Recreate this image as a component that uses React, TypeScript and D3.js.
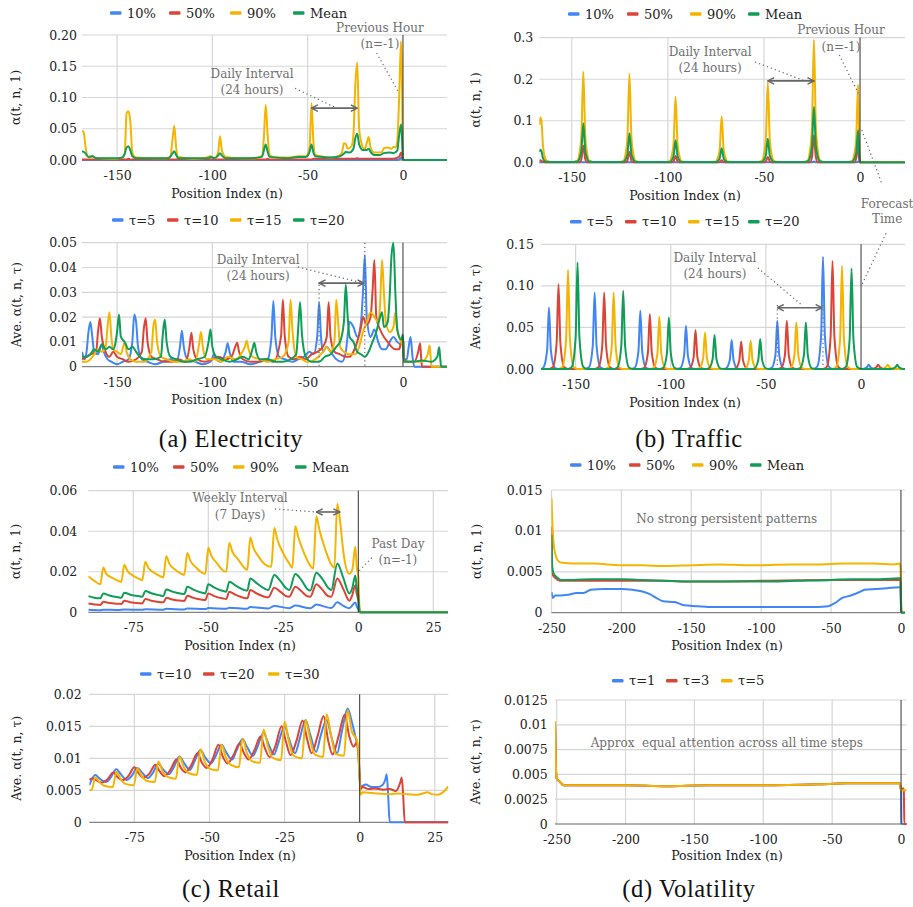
import React, { useEffect, useRef } from 'react';
import * as d3 from 'd3';

type Pt = [number, number];

const BLUE = '#4285f4';
const RED = '#db4437';
const YELLOW = '#f4b400';
const GREEN = '#0f9d58';
const GRID = '#d6d6d6';
const FONT = "'DejaVu Serif', 'Liberation Serif', 'Noto Serif', Georgia, serif";
const CAPTION_FONT = "'Liberation Serif', 'DejaVu Serif', 'Times New Roman', serif";
const NOTE = '#6f6f6f';

// ---------- (a) Electricity ----------
const elecP10: Pt[] = [[-168.4, 0], [-3, 0], [-1.5, 0.002], [-1, 0.004], [-0.5, 0.002], [0, 0], [23.1, 0]];
const elecP50: Pt[] = [[-168.4, 0.001], [-145, 0.001], [-144, 0.002], [-143, 0.001], [-72, 0.001], [-71, 0.002], [-70, 0.001], [-48, 0.001], [-47, 0.002], [-25, 0.002], [-24, 0.003], [-23, 0.002], [-5, 0.002], [-2, 0.005], [-1, 0.012], [-0.5, 0.006], [0, 0], [23.1, 0]];
const elecP90: Pt[] = [[-168.4, 0.047], [-167.5, 0.044], [-166.5, 0.02], [-165.5, 0.006], [-164, 0.004], [-163, 0.007], [-162, 0.004], [-160, 0.003], [-152, 0.002], [-148, 0.003], [-146, 0.01], [-145, 0.075], [-144, 0.078], [-143, 0.06], [-142, 0.012], [-140, 0.004], [-130, 0.003], [-124, 0.003], [-122, 0.006], [-121, 0.03], [-120, 0.055], [-119, 0.02], [-118, 0.005], [-116, 0.004], [-110, 0.002], [-104, 0.003], [-101, 0.006], [-99, 0.003], [-97, 0.012], [-96, 0.038], [-95, 0.015], [-93, 0.005], [-85, 0.003], [-78, 0.003], [-74, 0.006], [-73, 0.035], [-72, 0.088], [-71, 0.04], [-70, 0.008], [-68, 0.005], [-60, 0.004], [-55, 0.006], [-51, 0.006], [-49, 0.02], [-48, 0.091], [-47, 0.03], [-46, 0.008], [-43, 0.006], [-38, 0.004], [-34, 0.006], [-32, 0.012], [-31, 0.027], [-30, 0.026], [-29, 0.018], [-27, 0.022], [-26, 0.04], [-25, 0.12], [-24, 0.156], [-23, 0.05], [-22, 0.03], [-21, 0.02], [-20, 0.018], [-19, 0.027], [-18, 0.037], [-17, 0.02], [-15, 0.012], [-13, 0.012], [-11, 0.013], [-10, 0.019], [-8, 0.02], [-6, 0.018], [-5, 0.021], [-4, 0.02], [-3, 0.03], [-2, 0.1], [-1, 0.19], [-0.5, 0.12], [0, 0], [23.1, 0]];
const elecMean: Pt[] = [[-168.4, 0.014], [-167, 0.012], [-165, 0.005], [-163, 0.006], [-161, 0.003], [-150, 0.003], [-147, 0.004], [-146, 0.01], [-145, 0.02], [-144, 0.022], [-143, 0.015], [-142, 0.006], [-140, 0.003], [-123, 0.003], [-121, 0.01], [-120, 0.014], [-119, 0.008], [-118, 0.003], [-110, 0.003], [-102, 0.003], [-101, 0.005], [-99, 0.003], [-97, 0.007], [-96, 0.011], [-95, 0.007], [-93, 0.003], [-80, 0.003], [-74, 0.005], [-73, 0.015], [-72, 0.025], [-71, 0.013], [-70, 0.005], [-60, 0.003], [-55, 0.005], [-51, 0.005], [-49, 0.013], [-48, 0.025], [-47, 0.012], [-46, 0.006], [-43, 0.005], [-38, 0.004], [-33, 0.006], [-31, 0.01], [-30, 0.013], [-28, 0.012], [-26, 0.018], [-25, 0.035], [-24, 0.042], [-23, 0.025], [-21, 0.016], [-19, 0.016], [-18, 0.018], [-17, 0.013], [-15, 0.008], [-12, 0.008], [-10, 0.011], [-7, 0.012], [-5, 0.011], [-3, 0.015], [-2, 0.04], [-1, 0.057], [-0.5, 0.035], [0, 0], [23.1, 0]];

const elecT5: Pt[] = [[-168.4, 0.006], [-167, 0.003], [-166, 0.006], [-165, 0.014], [-164, 0.018], [-163, 0.012], [-162, 0.006], [-160, 0.005], [-158, 0.009], [-157, 0.006], [-155, 0.003], [-153, 0.002], [-150, 0.001], [-147, 0.002], [-144, 0.003], [-142, 0.01], [-141, 0.021], [-140, 0.018], [-139, 0.008], [-137, 0.003], [-134, 0.002], [-130, 0.001], [-126, 0.002], [-122, 0.003], [-119, 0.002], [-117, 0.008], [-116, 0.0145], [-115, 0.008], [-113, 0.003], [-109, 0.002], [-105, 0.001], [-101, 0.002], [-99, 0.005], [-98, 0.003], [-96, 0.002], [-93, 0.006], [-92, 0.0095], [-91, 0.006], [-89, 0.002], [-85, 0.002], [-80, 0.001], [-75, 0.002], [-71, 0.003], [-69, 0.012], [-68, 0.0265], [-67, 0.012], [-65, 0.004], [-62, 0.003], [-58, 0.002], [-55, 0.003], [-52, 0.004], [-49, 0.006], [-47, 0.005], [-45, 0.012], [-44, 0.026], [-43, 0.012], [-42, 0.006], [-40, 0.008], [-38, 0.006], [-35, 0.003], [-32, 0.002], [-30, 0.006], [-28, 0.018], [-26, 0.016], [-24, 0.012], [-22, 0.018], [-21, 0.03], [-20, 0.045], [-19, 0.02], [-17, 0.012], [-15, 0.015], [-13, 0.01], [-11, 0.007], [-9, 0.007], [-7, 0.01], [-5, 0.012], [-3, 0.01], [-1, 0.009], [0, 0.012], [0.5, 0.003], [2, 0.003], [3, 0.008], [4, 0.012], [5, 0.004], [6, 0], [23.1, 0]];
const elecT10: Pt[] = [[-168.4, 0.003], [-166, 0.004], [-164, 0.005], [-161, 0.006], [-160, 0.014], [-159, 0.0195], [-158, 0.012], [-156, 0.006], [-154, 0.004], [-152, 0.006], [-150, 0.004], [-147, 0.003], [-144, 0.002], [-140, 0.003], [-137, 0.006], [-136, 0.015], [-135, 0.0195], [-134, 0.01], [-132, 0.004], [-129, 0.003], [-125, 0.002], [-121, 0.002], [-118, 0.003], [-114, 0.002], [-112, 0.008], [-111, 0.0137], [-110, 0.007], [-108, 0.003], [-104, 0.002], [-100, 0.003], [-97, 0.004], [-93, 0.003], [-90, 0.004], [-88, 0.008], [-87, 0.0097], [-86, 0.006], [-84, 0.003], [-80, 0.002], [-76, 0.002], [-72, 0.003], [-68, 0.002], [-64, 0.012], [-63, 0.027], [-62, 0.012], [-60, 0.004], [-57, 0.003], [-54, 0.004], [-51, 0.003], [-48, 0.005], [-45, 0.006], [-42, 0.008], [-40, 0.012], [-39, 0.026], [-38, 0.012], [-36, 0.006], [-33, 0.005], [-30, 0.004], [-28, 0.004], [-26, 0.006], [-24, 0.01], [-22, 0.016], [-21, 0.02], [-19, 0.017], [-17, 0.02], [-16, 0.03], [-15, 0.043], [-14, 0.02], [-12, 0.015], [-10, 0.012], [-8, 0.01], [-6, 0.008], [-4, 0.007], [-2, 0.007], [-1, 0.01], [0, 0.012], [0.5, 0.003], [3, 0.002], [6, 0.002], [8, 0.006], [9, 0.0095], [9.5, 0.004], [10, 0], [23.1, 0]];
const elecT15: Pt[] = [[-168.4, 0.002], [-166, 0.002], [-164, 0.003], [-162, 0.005], [-160, 0.007], [-158, 0.006], [-156, 0.008], [-155, 0.016], [-154, 0.022], [-153, 0.012], [-152, 0.007], [-150, 0.006], [-148, 0.005], [-146, 0.01], [-145, 0.006], [-143, 0.003], [-140, 0.002], [-136, 0.002], [-132, 0.006], [-131, 0.016], [-130, 0.019], [-129, 0.01], [-127, 0.004], [-124, 0.003], [-120, 0.002], [-116, 0.002], [-112, 0.003], [-109, 0.002], [-107, 0.009], [-106, 0.014], [-105, 0.008], [-103, 0.003], [-99, 0.003], [-95, 0.002], [-92, 0.004], [-88, 0.003], [-85, 0.005], [-83, 0.008], [-82, 0.0105], [-81, 0.007], [-79, 0.004], [-75, 0.003], [-71, 0.002], [-67, 0.003], [-63, 0.004], [-60, 0.01], [-59, 0.027], [-58, 0.015], [-56, 0.004], [-53, 0.003], [-50, 0.002], [-46, 0.003], [-42, 0.006], [-40, 0.008], [-38, 0.006], [-36, 0.01], [-35, 0.027], [-34, 0.018], [-33, 0.008], [-31, 0.006], [-28, 0.005], [-25, 0.005], [-23, 0.008], [-21, 0.014], [-19, 0.018], [-17, 0.022], [-15, 0.02], [-13, 0.018], [-12, 0.025], [-11, 0.043], [-10, 0.03], [-9, 0.018], [-7, 0.014], [-5, 0.016], [-4, 0.022], [-3, 0.015], [-1, 0.01], [0, 0.008], [0.5, 0.002], [5, 0.002], [10, 0.002], [13, 0.005], [14, 0.0085], [14.5, 0.004], [15, 0], [23.1, 0]];
const elecT20: Pt[] = [[-168.4, 0.004], [-166, 0.004], [-164, 0.005], [-162, 0.007], [-160, 0.006], [-158, 0.009], [-156, 0.007], [-154, 0.008], [-152, 0.007], [-151, 0.009], [-150, 0.014], [-149, 0.021], [-148, 0.012], [-146, 0.01], [-144, 0.007], [-142, 0.008], [-140, 0.006], [-138, 0.004], [-135, 0.003], [-131, 0.003], [-127, 0.004], [-126, 0.013], [-125, 0.019], [-124, 0.01], [-122, 0.004], [-119, 0.003], [-115, 0.002], [-112, 0.002], [-108, 0.003], [-104, 0.004], [-102, 0.01], [-101, 0.015], [-100, 0.008], [-98, 0.004], [-95, 0.003], [-91, 0.002], [-87, 0.003], [-84, 0.004], [-81, 0.003], [-79, 0.007], [-78, 0.0097], [-77, 0.006], [-75, 0.003], [-71, 0.003], [-67, 0.002], [-63, 0.002], [-59, 0.003], [-56, 0.005], [-55, 0.015], [-54, 0.026], [-53, 0.013], [-51, 0.004], [-48, 0.002], [-44, 0.002], [-41, 0.004], [-38, 0.005], [-35, 0.008], [-33, 0.01], [-31, 0.018], [-30, 0.033], [-29, 0.02], [-28, 0.012], [-26, 0.01], [-24, 0.006], [-22, 0.005], [-20, 0.004], [-18, 0.006], [-16, 0.01], [-14, 0.014], [-12, 0.02], [-11, 0.022], [-10, 0.016], [-8, 0.018], [-7, 0.028], [-6, 0.045], [-5, 0.05], [-4, 0.03], [-3, 0.015], [-1, 0.011], [0, 0.013], [0.5, 0.002], [5, 0.002], [10, 0.0025], [15, 0.002], [18, 0.004], [19, 0.0078], [19.5, 0.004], [20, 0], [23.1, 0]];

// ---------- (b) Traffic ----------
const trafP10: Pt[] = [[-166.9, 0], [-25, 0], [-24, 0.002], [-23, 0], [-2, 0], [-1, 0.002], [0, 0], [23.4, 0]];
const trafP50: Pt[] = [[-166.9, 0.004], [-166.3, 0.005], [-165.3, 0.002], [-164, 0], [-146, 0], [-145, 0.008], [-144, 0.04], [-143, 0.008], [-142, 0], [-122, 0], [-121, 0.005], [-120, 0.025], [-119, 0.005], [-118, 0], [-98, 0], [-97, 0.003], [-96, 0.015], [-95, 0.003], [-94, 0], [-74, 0], [-73, 0.001], [-72, 0.005], [-71, 0.001], [-70, 0], [-50, 0], [-49, 0.003], [-48, 0.013], [-47, 0.003], [-46, 0], [-26, 0], [-25, 0.013], [-24, 0.065], [-23, 0.013], [-22, 0], [-3, 0], [-2, 0.009], [-1, 0.045], [-0.5, 0.01], [0, 0], [23.4, 0]];
const trafP90: Pt[] = [[-166.9, 0.09], [-166.4, 0.108], [-165.8, 0.1], [-165, 0.04], [-164, 0.012], [-163, 0.004], [-161, 0.001], [-149, 0.001], [-147, 0.004], [-146, 0.022], [-145, 0.065], [-144, 0.218], [-143, 0.065], [-142, 0.022], [-141, 0.004], [-139, 0.001], [-125, 0.001], [-123, 0.004], [-122, 0.021], [-121, 0.064], [-120, 0.213], [-119, 0.064], [-118, 0.021], [-117, 0.004], [-115, 0.001], [-101, 0.001], [-99, 0.003], [-98, 0.016], [-97, 0.047], [-96, 0.158], [-95, 0.047], [-94, 0.016], [-93, 0.003], [-91, 0.001], [-77, 0.001], [-75, 0.002], [-74, 0.011], [-73, 0.033], [-72, 0.11], [-71, 0.033], [-70, 0.011], [-69, 0.002], [-67, 0.001], [-53, 0.001], [-51, 0.004], [-50, 0.019], [-49, 0.058], [-48, 0.193], [-47, 0.058], [-46, 0.019], [-45, 0.004], [-43, 0.001], [-29, 0.001], [-27, 0.006], [-26, 0.03], [-25, 0.088], [-24, 0.295], [-23, 0.088], [-22, 0.03], [-21, 0.006], [-19, 0.001], [-6, 0.001], [-4, 0.004], [-3, 0.019], [-2, 0.056], [-1, 0.187], [-0.5, 0.06], [0, 0], [23.4, 0]];
const trafMean: Pt[] = [[-166.9, 0.025], [-166.4, 0.03], [-165.8, 0.027], [-165, 0.01], [-164, 0.003], [-163, 0.001], [-149, 0.001], [-147, 0.002], [-146, 0.009], [-145, 0.028], [-144, 0.094], [-143, 0.028], [-142, 0.009], [-141, 0.002], [-139, 0.001], [-125, 0.001], [-123, 0.0015], [-122, 0.007], [-121, 0.021], [-120, 0.07], [-119, 0.021], [-118, 0.007], [-117, 0.0015], [-115, 0.001], [-101, 0.001], [-99, 0.001], [-98, 0.005], [-97, 0.016], [-96, 0.053], [-95, 0.016], [-94, 0.005], [-93, 0.001], [-75, 0.001], [-74, 0.003], [-73, 0.01], [-72, 0.034], [-71, 0.01], [-70, 0.003], [-69, 0.001], [-51, 0.001], [-50, 0.006], [-49, 0.017], [-48, 0.057], [-47, 0.017], [-46, 0.006], [-45, 0.001], [-29, 0.001], [-27, 0.003], [-26, 0.013], [-25, 0.04], [-24, 0.133], [-23, 0.04], [-22, 0.013], [-21, 0.003], [-19, 0.001], [-5, 0.001], [-4, 0.0015], [-3, 0.008], [-2, 0.023], [-1, 0.077], [-0.5, 0.025], [0, 0], [23.4, 0]];

const trafT5: Pt[] = [[-168.2, 0], [-167, 0.0015], [-165, 0.022], [-164, 0.074], [-163, 0.022], [-161, 0.0015], [-159, 0], [-145, 0], [-143, 0.002], [-141, 0.028], [-140, 0.092], [-139, 0.028], [-137, 0.002], [-135, 0], [-121, 0], [-119, 0.0014], [-117, 0.021], [-116, 0.07], [-115, 0.021], [-113, 0.0014], [-111, 0], [-97, 0], [-95, 0.001], [-93, 0.016], [-92, 0.052], [-91, 0.016], [-89, 0.001], [-87, 0], [-73, 0], [-71, 0.0007], [-69, 0.0105], [-68, 0.035], [-67, 0.0105], [-65, 0.0007], [-63, 0], [-49, 0], [-47, 0.0012], [-45, 0.017], [-44, 0.058], [-43, 0.017], [-41, 0.0012], [-39, 0], [-25, 0], [-23, 0.003], [-21, 0.04], [-20, 0.135], [-19, 0.04], [-17, 0.003], [-15, 0], [1, 0], [3, 0.002], [4, 0.005], [5, 0.002], [7, 0], [23.1, 0]];
const trafT10: Pt[] = [[-168.2, 0], [-164, 0], [-162, 0.002], [-160, 0.031], [-159, 0.102], [-158, 0.031], [-156, 0.002], [-154, 0], [-140, 0], [-138, 0.002], [-136, 0.028], [-135, 0.092], [-134, 0.028], [-132, 0.002], [-130, 0], [-116, 0], [-114, 0.0013], [-112, 0.02], [-111, 0.066], [-110, 0.02], [-108, 0.0013], [-106, 0], [-92, 0], [-90, 0.001], [-88, 0.014], [-87, 0.047], [-86, 0.014], [-84, 0.001], [-82, 0], [-68, 0], [-66, 0.0007], [-64, 0.01], [-63, 0.033], [-62, 0.01], [-60, 0.0007], [-58, 0], [-44, 0], [-42, 0.0012], [-40, 0.017], [-39, 0.058], [-38, 0.017], [-36, 0.0012], [-34, 0], [-20, 0], [-18, 0.0026], [-16, 0.039], [-15, 0.13], [-14, 0.039], [-12, 0.0026], [-10, 0], [6, 0], [8, 0.002], [9, 0.005], [10, 0.002], [12, 0], [23.1, 0]];
const trafT15: Pt[] = [[-168.2, 0], [-159, 0], [-157, 0.0024], [-155, 0.036], [-154, 0.119], [-153, 0.036], [-151, 0.0024], [-149, 0], [-135, 0], [-133, 0.0018], [-131, 0.028], [-130, 0.092], [-129, 0.028], [-127, 0.0018], [-125, 0], [-111, 0], [-109, 0.0013], [-107, 0.019], [-106, 0.063], [-105, 0.019], [-103, 0.0013], [-101, 0], [-87, 0], [-85, 0.0009], [-83, 0.013], [-82, 0.044], [-81, 0.013], [-79, 0.0009], [-77, 0], [-63, 0], [-61, 0.0007], [-59, 0.01], [-58, 0.034], [-57, 0.01], [-55, 0.0007], [-53, 0], [-39, 0], [-37, 0.0011], [-35, 0.017], [-34, 0.056], [-33, 0.017], [-31, 0.0011], [-29, 0], [-15, 0], [-13, 0.0025], [-11, 0.037], [-10, 0.124], [-9, 0.037], [-7, 0.0025], [-5, 0], [11, 0], [13, 0.002], [14, 0.005], [15, 0.002], [17, 0], [23.1, 0]];
const trafT20: Pt[] = [[-168.2, 0], [-154, 0], [-152, 0.0026], [-150, 0.038], [-149, 0.128], [-148, 0.038], [-146, 0.0026], [-144, 0], [-130, 0], [-128, 0.0019], [-126, 0.028], [-125, 0.094], [-124, 0.028], [-122, 0.0019], [-120, 0], [-106, 0], [-104, 0.0012], [-102, 0.019], [-101, 0.062], [-100, 0.019], [-98, 0.0012], [-96, 0], [-82, 0], [-80, 0.0008], [-78, 0.012], [-77, 0.041], [-76, 0.012], [-74, 0.0008], [-72, 0], [-58, 0], [-56, 0.0007], [-54, 0.011], [-53, 0.036], [-52, 0.011], [-50, 0.0007], [-48, 0], [-34, 0], [-32, 0.0011], [-30, 0.017], [-29, 0.056], [-28, 0.017], [-26, 0.0011], [-24, 0], [-10, 0], [-8, 0.0024], [-6, 0.036], [-5, 0.121], [-4, 0.036], [-2, 0.0024], [0, 0], [16, 0], [18, 0.002], [19, 0.005], [20, 0.002], [22, 0], [23.1, 0]];

// ---------- (c) Retail ----------
const retP10: Pt[] = [[-90, 0.0012], [-86, 0.001], [-85, 0.0013], [-80, 0.0011], [-78, 0.0014], [-72, 0.0012], [-71, 0.0015], [-65, 0.0013], [-64, 0.0017], [-58, 0.0014], [-57, 0.0019], [-51, 0.0016], [-50, 0.0021], [-44, 0.0017], [-43, 0.0023], [-37, 0.0018], [-36, 0.0026], [-30, 0.0019], [-28, 0.0031], [-23, 0.002], [-21, 0.0033], [-16, 0.002], [-14, 0.0038], [-9, 0.0021], [-7, 0.0049], [-5, 0.0032], [-3, 0.002], [-1, 0.0048], [-0.5, 0.003], [0, 0.0015], [0.5, 0], [30, 0]];
const retP50: Pt[] = [[-90, 0.0044], [-88, 0.0039], [-86, 0.0036], [-85, 0.0052], [-83, 0.0046], [-80, 0.0042], [-79, 0.0041], [-78, 0.0057], [-76, 0.005], [-73, 0.0045], [-72, 0.0044], [-71, 0.0066], [-69, 0.0057], [-66, 0.005], [-65, 0.0049], [-64, 0.0072], [-62, 0.0063], [-59, 0.0057], [-58, 0.0056], [-57, 0.0082], [-55, 0.0071], [-52, 0.0062], [-51, 0.0061], [-50, 0.0093], [-48, 0.008], [-45, 0.0068], [-44, 0.0066], [-43, 0.0102], [-41, 0.0087], [-38, 0.0071], [-37, 0.0069], [-36, 0.011], [-34, 0.0094], [-31, 0.0076], [-30, 0.0074], [-28, 0.0121], [-26, 0.0102], [-24, 0.0079], [-23, 0.0077], [-21, 0.0126], [-19, 0.0105], [-17, 0.0079], [-16, 0.0077], [-14, 0.0139], [-12, 0.0112], [-10, 0.0079], [-9, 0.0077], [-7, 0.0167], [-5, 0.0115], [-3, 0.0057], [-2, 0.0085], [-1, 0.0134], [-0.5, 0.009], [0, 0.006], [0.5, 0], [30, 0]];
const retP90: Pt[] = [[-90, 0.0178], [-88, 0.0155], [-86, 0.0138], [-85, 0.0221], [-84, 0.019], [-82, 0.017], [-80, 0.0155], [-79, 0.015], [-78, 0.0233], [-77, 0.0205], [-75, 0.018], [-73, 0.0165], [-72, 0.0158], [-71, 0.0249], [-70, 0.022], [-68, 0.0195], [-66, 0.0178], [-65, 0.0172], [-64, 0.0277], [-63, 0.024], [-61, 0.021], [-59, 0.019], [-58, 0.0185], [-57, 0.0293], [-56, 0.0255], [-54, 0.022], [-52, 0.0195], [-51, 0.019], [-50, 0.0318], [-49, 0.028], [-47, 0.024], [-45, 0.0205], [-44, 0.02], [-43, 0.0343], [-42, 0.03], [-40, 0.026], [-38, 0.022], [-37, 0.021], [-36, 0.0369], [-35, 0.032], [-33, 0.027], [-31, 0.0235], [-29, 0.0225], [-28, 0.0416], [-27, 0.036], [-25, 0.029], [-23, 0.024], [-22, 0.022], [-21, 0.0425], [-20, 0.037], [-18, 0.029], [-16, 0.023], [-15, 0.0215], [-14, 0.0474], [-13, 0.041], [-11, 0.031], [-9, 0.0235], [-8, 0.022], [-7, 0.0536], [-6, 0.044], [-5, 0.03], [-3, 0.019], [-2, 0.021], [-1, 0.0323], [-0.5, 0.022], [0, 0.018], [0.5, 0], [30, 0]];
const retMean: Pt[] = [[-90, 0.008], [-88, 0.0072], [-86, 0.0069], [-85, 0.0093], [-83, 0.0083], [-80, 0.0074], [-79, 0.0072], [-78, 0.0097], [-76, 0.0087], [-73, 0.0079], [-72, 0.0077], [-71, 0.0105], [-69, 0.0094], [-66, 0.0083], [-65, 0.008], [-64, 0.0113], [-62, 0.0102], [-59, 0.0092], [-58, 0.009], [-57, 0.0126], [-55, 0.0112], [-52, 0.0096], [-51, 0.0093], [-50, 0.0138], [-48, 0.0122], [-45, 0.0105], [-44, 0.0102], [-43, 0.0151], [-41, 0.0133], [-38, 0.011], [-37, 0.0107], [-36, 0.0167], [-34, 0.0145], [-31, 0.0115], [-30, 0.011], [-28, 0.0184], [-26, 0.0155], [-24, 0.0118], [-23, 0.011], [-21, 0.0189], [-19, 0.016], [-17, 0.0115], [-16, 0.0107], [-14, 0.0195], [-12, 0.0165], [-10, 0.012], [-9, 0.011], [-7, 0.0241], [-5, 0.017], [-3, 0.0093], [-2, 0.012], [-1, 0.0182], [-0.5, 0.012], [0, 0.008], [0.5, 0], [30, 0]];

const retT10: Pt[] = [[-90, 0.0058], [-88, 0.0074], [-86.5, 0.0068], [-84.5, 0.0063], [-83, 0.0069], [-81, 0.0083], [-79.5, 0.0075], [-77.5, 0.0066], [-76, 0.0072], [-74, 0.0085], [-72.5, 0.0078], [-70.5, 0.0069], [-69, 0.0076], [-67, 0.0091], [-65.5, 0.0083], [-63.5, 0.0075], [-62, 0.0085], [-60, 0.0103], [-58.5, 0.0093], [-56.5, 0.0082], [-55, 0.0095], [-53, 0.0113], [-51.5, 0.0102], [-49.5, 0.0092], [-48, 0.0103], [-46, 0.0121], [-44.5, 0.011], [-42.5, 0.0098], [-41, 0.0112], [-39, 0.013], [-37.5, 0.0118], [-35.5, 0.0104], [-34, 0.0118], [-32, 0.014], [-30.5, 0.0124], [-28.5, 0.0106], [-27, 0.0125], [-25, 0.015], [-23.5, 0.013], [-21.5, 0.0108], [-20, 0.013], [-18, 0.016], [-16.5, 0.0138], [-14.5, 0.011], [-13, 0.0135], [-11, 0.016], [-9.5, 0.0135], [-7.5, 0.0108], [-6, 0.014], [-4, 0.0178], [-2.5, 0.0155], [-1, 0.0125], [-0.5, 0.0115], [0.3, 0.0055], [1, 0.0057], [2, 0.0059], [4, 0.0055], [6, 0.0055], [7.5, 0.0058], [8.5, 0.0066], [9, 0.0075], [9.5, 0.004], [10, 0], [29.5, 0]];
const retT20: Pt[] = [[-90, 0.0066], [-89, 0.0069], [-87.5, 0.0065], [-86, 0.0062], [-84, 0.0067], [-82, 0.0078], [-80.5, 0.007], [-79, 0.0066], [-77, 0.0072], [-75, 0.0086], [-73.5, 0.0076], [-72, 0.007], [-70, 0.0076], [-68, 0.009], [-66.5, 0.0079], [-65, 0.0072], [-63, 0.0082], [-61, 0.0098], [-59.5, 0.0085], [-58, 0.0078], [-56, 0.009], [-54, 0.0108], [-52.5, 0.0093], [-51, 0.0085], [-49, 0.0098], [-47, 0.0121], [-45.5, 0.0102], [-44, 0.0092], [-42, 0.0105], [-40, 0.0123], [-38.5, 0.0108], [-37, 0.0098], [-35, 0.0113], [-33, 0.0134], [-31.5, 0.0115], [-30, 0.0102], [-28, 0.012], [-26, 0.015], [-24.5, 0.0125], [-23, 0.0105], [-21, 0.0128], [-19, 0.0159], [-17.5, 0.013], [-16, 0.0108], [-14, 0.0135], [-12, 0.0166], [-10.5, 0.0128], [-9, 0.0106], [-7, 0.0135], [-5, 0.0168], [-3.5, 0.0135], [-2, 0.0118], [-1, 0.0125], [-0.5, 0.011], [0.3, 0.0052], [1, 0.0055], [3, 0.0052], [5, 0.0053], [8, 0.0051], [10, 0.0052], [12, 0.0049], [13.5, 0.0062], [14, 0.007], [14.5, 0.004], [15, 0], [29.5, 0]];
const retT30: Pt[] = [[-90, 0.005], [-89.2, 0.0051], [-88, 0.007], [-86.5, 0.0062], [-85, 0.0057], [-82.2, 0.0055], [-81, 0.0079], [-79.5, 0.0067], [-78, 0.006], [-75.2, 0.0058], [-74, 0.0084], [-72.5, 0.0072], [-71, 0.0065], [-68.2, 0.0063], [-67, 0.0095], [-65.5, 0.0079], [-64, 0.0071], [-61.2, 0.0068], [-60, 0.0103], [-58.5, 0.0086], [-57, 0.0077], [-54.2, 0.0074], [-53, 0.0114], [-51.5, 0.0094], [-50, 0.0084], [-47.2, 0.0081], [-46, 0.0121], [-44.5, 0.0101], [-43, 0.009], [-40.2, 0.0086], [-39, 0.0131], [-37.5, 0.0108], [-36, 0.0096], [-33.2, 0.0093], [-32, 0.0145], [-30.5, 0.0118], [-29, 0.0101], [-26.2, 0.0097], [-25, 0.0157], [-23.5, 0.0125], [-22, 0.0104], [-19.2, 0.01], [-18, 0.016], [-16.5, 0.013], [-15, 0.0106], [-12.2, 0.0102], [-11, 0.0169], [-9.5, 0.0135], [-8, 0.0107], [-5.2, 0.0104], [-4, 0.0175], [-2.5, 0.014], [-1, 0.013], [-0.5, 0.0115], [0.3, 0.0043], [1, 0.0047], [3, 0.0046], [6, 0.0045], [10, 0.0044], [13, 0.0045], [16, 0.0044], [19, 0.0043], [21, 0.0045], [22.5, 0.0047], [24, 0.0044], [26, 0.0043], [27.5, 0.0046], [29.5, 0.0056]];

// ---------- (d) Volatility ----------
const volP10: Pt[] = [[-250, 0.0025], [-249, 0.0018], [-247.5, 0.0021], [-244, 0.0021], [-238, 0.0022], [-232, 0.0024], [-227, 0.0024], [-222, 0.0028], [-212, 0.0029], [-200, 0.0029], [-192, 0.0028], [-185, 0.0026], [-180, 0.0023], [-175, 0.0018], [-170, 0.0014], [-162, 0.0013], [-155, 0.0009], [-145, 0.0008], [-138, 0.0007], [-120, 0.0007], [-100, 0.0007], [-80, 0.0007], [-60, 0.0007], [-52, 0.0008], [-47, 0.0012], [-42, 0.0018], [-36, 0.0021], [-30, 0.0025], [-26, 0.0028], [-18, 0.0029], [-10, 0.003], [-1, 0.0031], [-0.3, 0.0031], [0, 0.001], [0.3, 0], [2.9, 0]];
const volP50: Pt[] = [[-250, 0.0105], [-249.6, 0.006], [-249, 0.0046], [-247, 0.0042], [-244, 0.0039], [-230, 0.0039], [-200, 0.0039], [-170, 0.0039], [-150, 0.0038], [-100, 0.0039], [-50, 0.004], [-20, 0.004], [-1, 0.004], [-0.3, 0.004], [0, 0.002], [0.3, 0], [2.9, 0]];
const volP90: Pt[] = [[-250, 0.014], [-249.5, 0.0115], [-248.5, 0.0085], [-247, 0.007], [-245, 0.0063], [-242, 0.0061], [-235, 0.006], [-220, 0.006], [-200, 0.0058], [-185, 0.0058], [-170, 0.0057], [-150, 0.0058], [-130, 0.0059], [-110, 0.0058], [-100, 0.0058], [-80, 0.0059], [-60, 0.0059], [-40, 0.006], [-20, 0.006], [-5, 0.0059], [-1, 0.006], [-0.3, 0.0055], [0, 0.003], [0.3, 0], [2.9, 0]];
const volMean: Pt[] = [[-250, 0.0095], [-249.5, 0.0055], [-248.5, 0.0048], [-246, 0.0043], [-243, 0.004], [-235, 0.004], [-220, 0.0041], [-200, 0.0041], [-185, 0.004], [-170, 0.0039], [-150, 0.0038], [-125, 0.0038], [-100, 0.0038], [-75, 0.0039], [-50, 0.004], [-35, 0.0041], [-15, 0.0041], [-1, 0.0042], [-0.3, 0.0042], [0, 0.001], [0.3, 0], [2.9, 0]];

const volT1: Pt[] = [[-251.2, 0.0103], [-250.6, 0.006], [-250, 0.0046], [-248, 0.0043], [-246, 0.004], [-244, 0.0039], [-220, 0.0039], [-200, 0.0039], [-170, 0.0038], [-140, 0.0039], [-100, 0.0039], [-60, 0.004], [-40, 0.0041], [-10, 0.0041], [-1, 0.0041], [-0.5, 0.0038], [0, 0.0034], [0.3, 0], [4.1, 0]];
const volT3: Pt[] = [[-251.2, 0.0103], [-250.6, 0.006], [-250, 0.0046], [-248, 0.0043], [-246, 0.004], [-244, 0.0039], [-220, 0.0039], [-200, 0.0039], [-170, 0.0038], [-140, 0.0039], [-100, 0.0039], [-60, 0.004], [-40, 0.0041], [-10, 0.0041], [-1, 0.0041], [-0.5, 0.0038], [0, 0.0034], [1, 0.0035], [1.5, 0.0036], [2, 0.0034], [2.4, 0], [4.1, 0]];
const volT5: Pt[] = [[-251.2, 0.0103], [-250.6, 0.006], [-250, 0.0046], [-248, 0.0043], [-246, 0.004], [-244, 0.0039], [-220, 0.0039], [-200, 0.0039], [-170, 0.0038], [-140, 0.0039], [-100, 0.0039], [-60, 0.004], [-40, 0.0041], [-10, 0.0041], [-1, 0.0041], [-0.5, 0.0038], [0, 0.0034], [2, 0.0034], [4.1, 0.0034]];

// ---------- axis ticks ----------
const ticksElecTraf = [-150, -100, -50, 0];
const ticksRetail = [-75, -50, -25, 0, 25];
const ticksVol = [-250, -200, -150, -100, -50, 0];
const quantLabels = ['10%', '50%', '90%', 'Mean'];

type Note =
  | { kind: 'text'; at: Pt; text: string }
  | { kind: 'dots'; from: Pt; to: Pt }
  | { kind: 'arrow'; from: Pt; to: Pt };

type Panel = {
  left: number; right: number; top: number; bottom: number;
  xDomain: Pt; yDomain: Pt;
  xTicks: number[];
  yTicks: number[]; yLabels: string[]; yGap: number;
  yTitle: string; yTitleX: number; xTitleX: number; xTitleDy: number;
  legendY: number; legendX: number[]; legendLabels: string[];
  series: { data: Pt[]; color: string }[];
  notes: Note[];
};

const panels: Panel[] = [
  {
    left: 82, right: 447, top: 35, bottom: 160, xDomain: [-168.4, 23.1], yDomain: [0, 0.2],
    xTicks: ticksElecTraf, yTicks: [0, 0.05, 0.1, 0.15, 0.2], yLabels: ['0.00', '0.05', '0.10', '0.15', '0.20'], yGap: 5,
    yTitle: 'α(t, n, 1)', yTitleX: 15, xTitleX: 227, xTitleDy: 33,
    legendY: 13, legendX: [110, 169, 230, 293], legendLabels: quantLabels,
    series: [{ data: elecP10, color: BLUE }, { data: elecP50, color: RED }, { data: elecP90, color: YELLOW }, { data: elecMean, color: GREEN }],
    notes: [
      { kind: 'text', at: [-12.1, 0.2112], text: 'Previous Hour' },
      { kind: 'text', at: [-12.1, 0.1856], text: '(n=-1)' },
      { kind: 'dots', from: [-13.8, 0.1712], to: [-2.5, 0.1093] },
      { kind: 'text', at: [-79.2, 0.1376], text: 'Daily Interval' },
      { kind: 'text', at: [-79.2, 0.112], text: '(24 hours)' },
      { kind: 'dots', from: [-56.6, 0.1147], to: [-35.7, 0.0843] },
      { kind: 'arrow', from: [-48, 0.083], to: [-24, 0.083] },
    ],
  },
  {
    left: 82, right: 447, top: 242.7, bottom: 366.7, xDomain: [-168.4, 23.1], yDomain: [0, 0.05],
    xTicks: ticksElecTraf, yTicks: [0, 0.01, 0.02, 0.03, 0.04, 0.05], yLabels: ['0', '0.01', '0.02', '0.03', '0.04', '0.05'], yGap: 5,
    yTitle: 'Ave. α(t, n, τ)', yTitleX: 16, xTitleX: 227, xTitleDy: 33,
    legendY: 220, legendX: [112, 167, 230, 293], legendLabels: ['τ=5', 'τ=10', 'τ=15', 'τ=20'],
    series: [{ data: elecT5, color: BLUE }, { data: elecT10, color: RED }, { data: elecT15, color: YELLOW }, { data: elecT20, color: GREEN }],
    notes: [
      { kind: 'dots', from: [-44, 0.033], to: [-44, 0] },
      { kind: 'dots', from: [-20, 0.05], to: [-20, 0] },
      { kind: 'text', at: [-76, 0.043], text: 'Daily Interval' },
      { kind: 'text', at: [-76, 0.0366], text: '(24 hours)' },
      { kind: 'dots', from: [-55.1, 0.0402], to: [-21, 0.0337] },
      { kind: 'arrow', from: [-44, 0.0337], to: [-20.5, 0.0337] },
    ],
  },
  {
    left: 539.3, right: 905, top: 37.7, bottom: 162.3, xDomain: [-166.9, 23.4], yDomain: [0, 0.3],
    xTicks: ticksElecTraf, yTicks: [0, 0.1, 0.2, 0.3], yLabels: ['0.0', '0.1', '0.2', '0.3'], yGap: 6,
    yTitle: 'α(t, n, 1)', yTitleX: 475, xTitleX: 685, xTitleDy: 33,
    legendY: 14, legendX: [568, 627, 690, 748], legendLabels: quantLabels,
    series: [{ data: trafP10, color: BLUE }, { data: trafP50, color: RED }, { data: trafP90, color: YELLOW }, { data: trafMean, color: GREEN }],
    notes: [
      { kind: 'text', at: [-9.9, 0.3186], text: 'Previous Hour' },
      { kind: 'text', at: [-9.9, 0.2776], text: '(n=-1)' },
      { kind: 'dots', from: [-10.8, 0.2584], to: [-0.9, 0.1661] },
      { kind: 'text', at: [-78, 0.2656], text: 'Daily Interval' },
      { kind: 'text', at: [-78, 0.227], text: '(24 hours)' },
      { kind: 'dots', from: [-54.6, 0.2415], to: [-28.6, 0.1958] },
      { kind: 'arrow', from: [-48, 0.196], to: [-24, 0.196] },
      { kind: 'dots', from: [0.9, 0.0778], to: [11.3, -0.0506] },
    ],
  },
  {
    left: 541, right: 905, top: 244.3, bottom: 369, xDomain: [-168.2, 23.1], yDomain: [0, 0.15],
    xTicks: ticksElecTraf, yTicks: [0, 0.05, 0.1, 0.15], yLabels: ['0.00', '0.05', '0.10', '0.15'], yGap: 7,
    yTitle: 'Ave. α(t, n, τ)', yTitleX: 475, xTitleX: 685, xTitleDy: 33,
    legendY: 221.7, legendX: [570, 625, 688, 748], legendLabels: ['τ=5', 'τ=10', 'τ=15', 'τ=20'],
    series: [{ data: trafT5, color: BLUE }, { data: trafT10, color: RED }, { data: trafT15, color: YELLOW }, { data: trafT20, color: GREEN }],
    notes: [
      { kind: 'dots', from: [-44, 0.077], to: [-44, 0] },
      { kind: 'dots', from: [-20, 0.077], to: [-20, 0] },
      { kind: 'text', at: [-76.8, 0.1335], text: 'Daily Interval' },
      { kind: 'text', at: [-76.8, 0.1143], text: '(24 hours)' },
      { kind: 'dots', from: [-54.2, 0.1215], to: [-30.6, 0.0758] },
      { kind: 'arrow', from: [-44, 0.0737], to: [-20.5, 0.0737] },
      { kind: 'text', at: [13.7, 0.1985], text: 'Forecast' },
      { kind: 'text', at: [13.7, 0.1804], text: 'Time' },
      { kind: 'dots', from: [13.1, 0.1632], to: [0.37, 0.101] },
    ],
  },
  {
    left: 88.3, right: 448, top: 490.7, bottom: 612.3, xDomain: [-90, 29.9], yDomain: [0, 0.06],
    xTicks: ticksRetail, yTicks: [0, 0.02, 0.04, 0.06], yLabels: ['0', '0.02', '0.04', '0.06'], yGap: 11,
    yTitle: 'α(t, n, 1)', yTitleX: 15, xTitleX: 240, xTitleDy: 33,
    legendY: 467, legendX: [113, 173, 233, 295], legendLabels: quantLabels,
    series: [{ data: retP10, color: BLUE }, { data: retP50, color: RED }, { data: retP90, color: YELLOW }, { data: retMean, color: GREEN }],
    notes: [
      { kind: 'text', at: [-39.4, 0.0565], text: 'Weekly Interval' },
      { kind: 'text', at: [-39.4, 0.048], text: '(7 Days)' },
      { kind: 'dots', from: [-27.8, 0.051], to: [-14, 0.0495] },
      { kind: 'arrow', from: [-14, 0.0495], to: [-6.2, 0.0495] },
      { kind: 'text', at: [13.2, 0.0337], text: 'Past Day' },
      { kind: 'text', at: [13.2, 0.0258], text: '(n=-1)' },
      { kind: 'dots', from: [4.5, 0.0269], to: [0.3, 0.0205] },
    ],
  },
  {
    left: 89.3, right: 448.3, top: 694.3, bottom: 822.3, xDomain: [-90, 29.5], yDomain: [0, 0.02],
    xTicks: ticksRetail, yTicks: [0, 0.005, 0.01, 0.015, 0.02], yLabels: ['0', '0.005', '0.01', '0.015', '0.02'], yGap: 7.6,
    yTitle: 'Ave. α(t, n, τ)', yTitleX: 16.7, xTitleX: 240, xTitleDy: 33,
    legendY: 674, legendX: [140, 203, 268], legendLabels: ['τ=10', 'τ=20', 'τ=30'],
    series: [{ data: retT10, color: BLUE }, { data: retT20, color: RED }, { data: retT30, color: YELLOW }],
    notes: [],
  },
  {
    left: 551.5, right: 905, top: 490, bottom: 612.7, xDomain: [-250, 2.9], yDomain: [0, 0.015],
    xTicks: ticksVol, yTicks: [0, 0.005, 0.01, 0.015], yLabels: ['0', '0.005', '0.01', '0.015'], yGap: 9,
    yTitle: 'α(t, n, 1)', yTitleX: 476.7, xTitleX: 727, xTitleDy: 33,
    legendY: 465, legendX: [570, 629, 692, 750], legendLabels: quantLabels,
    series: [{ data: volP10, color: BLUE }, { data: volP50, color: RED }, { data: volP90, color: YELLOW }, { data: volMean, color: GREEN }],
    notes: [{ kind: 'text', at: [-124.7, 0.01145], text: 'No strong persistent patterns' }],
  },
  {
    left: 555, right: 906.7, top: 700, bottom: 824, xDomain: [-251.2, 4.1], yDomain: [0, 0.0125],
    xTicks: ticksVol, yTicks: [0, 0.0025, 0.005, 0.0075, 0.01, 0.0125], yLabels: ['0', '0.0025', '0.005', '0.0075', '0.01', '0.0125'], yGap: 7.3,
    yTitle: 'Ave. α(t, n, τ)', yTitleX: 475, xTitleX: 727, xTitleDy: 31,
    legendY: 680.7, legendX: [612, 666, 721], legendLabels: ['τ=1', 'τ=3', 'τ=5'],
    series: [{ data: volT1, color: BLUE }, { data: volT3, color: RED }, { data: volT5, color: YELLOW }],
    notes: [{ kind: 'text', at: [-126.5, 0.00817], text: 'Approx  equal attention across all time steps' }],
  },
];

const captions = [
  { text: '(a) Electricity', x: 231, y: 438 },
  { text: '(b) Traffic', x: 689, y: 438 },
  { text: '(c) Retail', x: 231, y: 888 },
  { text: '(d) Volatility', x: 689, y: 888 },
];

function drawPanel(svg: d3.Selection<SVGSVGElement, unknown, null, undefined>, p: Panel, idx: number) {
  const x = d3.scaleLinear().domain(p.xDomain).range([p.left, p.right]);
  const y = d3.scaleLinear().domain(p.yDomain).range([p.bottom, p.top]);
  const g = svg.append('g').style('font-family', FONT);

  // grid
  g.append('g')
    .selectAll('line')
    .data(p.yTicks.filter((t) => t !== 0))
    .join('line')
    .attr('x1', p.left).attr('x2', p.right)
    .attr('y1', (d) => y(d)).attr('y2', (d) => y(d))
    .attr('stroke', GRID).attr('stroke-width', 1.2);
  g.append('g')
    .selectAll('line')
    .data(p.xTicks.filter((t) => t !== 0))
    .join('line')
    .attr('x1', (d) => x(d)).attr('x2', (d) => x(d))
    .attr('y1', p.top).attr('y2', p.bottom)
    .attr('stroke', GRID).attr('stroke-width', 1.2);
  g.append('line')
    .attr('x1', p.left).attr('x2', p.right)
    .attr('y1', y(0)).attr('y2', y(0))
    .attr('stroke', '#666').attr('stroke-width', 1);

  // axes (labels only)
  const yAxis = g.append('g')
    .attr('transform', `translate(${p.left},0)`)
    .call(d3.axisLeft(y).tickValues(p.yTicks).tickFormat((_, i) => p.yLabels[i]).tickSize(0).tickPadding(p.yGap));
  yAxis.select('.domain').remove();
  const xAxis = g.append('g')
    .attr('transform', `translate(0,${p.bottom})`)
    .call(d3.axisBottom(x).tickValues(p.xTicks).tickFormat((d) => String(d)).tickSize(0).tickPadding(11));
  xAxis.select('.domain').remove();
  yAxis.attr('font-family', null).attr('font-size', null);
  xAxis.attr('font-family', null).attr('font-size', null);
  g.selectAll('.tick text').style('font-family', FONT).style('font-size', '12.5px').attr('fill', '#222');

  // titles
  g.append('text')
    .attr('x', p.xTitleX).attr('y', p.bottom + p.xTitleDy)
    .attr('text-anchor', 'middle').attr('dominant-baseline', 'central')
    .style('font-size', '12.5px').attr('fill', '#222')
    .text('Position Index (n)');
  g.append('text')
    .attr('transform', `translate(${p.yTitleX},${(p.top + p.bottom) / 2}) rotate(-90)`)
    .attr('text-anchor', 'middle').attr('dominant-baseline', 'central')
    .style('font-size', '12.5px').attr('fill', '#222')
    .text(p.yTitle);

  // legend
  const leg = g.append('g');
  p.legendLabels.forEach((label, i) => {
    leg.append('rect')
      .attr('x', p.legendX[i]).attr('y', p.legendY - 1.7)
      .attr('width', 11.5).attr('height', 3.4).attr('rx', 1.2)
      .attr('fill', p.series[i].color);
    leg.append('text')
      .attr('x', p.legendX[i] + 17).attr('y', p.legendY)
      .attr('dominant-baseline', 'central')
      .style('font-size', '13px').attr('fill', '#222')
      .text(label);
  });

  // series
  const clipId = `clip-${idx}`;
  svg.select('defs').append('clipPath').attr('id', clipId)
    .append('rect')
    .attr('x', p.left).attr('y', p.top - 4)
    .attr('width', p.right - p.left).attr('height', p.bottom - p.top + 6);
  const line = d3.line<Pt>().x((d) => x(d[0])).y((d) => y(d[1])).curve(d3.curveMonotoneX);
  g.append('g')
    .attr('clip-path', `url(#${clipId})`)
    .selectAll('path')
    .data(p.series)
    .join('path')
    .attr('d', (s) => line(s.data))
    .attr('fill', 'none')
    .attr('stroke', (s) => s.color)
    .attr('stroke-width', 2)
    .attr('stroke-linejoin', 'round');

  // forecast origin
  g.append('line')
    .attr('x1', x(0)).attr('x2', x(0))
    .attr('y1', p.top).attr('y2', p.bottom)
    .attr('stroke', '#333').attr('stroke-width', 1);

  // annotations
  p.notes.forEach((n) => {
    if (n.kind === 'text') {
      g.append('text')
        .attr('x', x(n.at[0])).attr('y', y(n.at[1]))
        .attr('text-anchor', 'middle').attr('dominant-baseline', 'central')
        .style('font-size', '12px').attr('fill', NOTE)
        .style('white-space', 'pre')
        .text(n.text);
    } else if (n.kind === 'dots') {
      g.append('line')
        .attr('x1', x(n.from[0])).attr('y1', y(n.from[1]))
        .attr('x2', x(n.to[0])).attr('y2', y(n.to[1]))
        .attr('stroke', '#666').attr('stroke-width', 1.2)
        .attr('stroke-dasharray', '1.2,3');
    } else {
      g.append('line')
        .attr('x1', x(n.from[0])).attr('y1', y(n.from[1]))
        .attr('x2', x(n.to[0])).attr('y2', y(n.to[1]))
        .attr('stroke', '#666').attr('stroke-width', 1.6)
        .attr('marker-start', 'url(#chev)').attr('marker-end', 'url(#chev)');
    }
  });
}

export default function App() {
  const ref = useRef<SVGSVGElement>(null);

  useEffect(() => {
    if (!ref.current) return;
    const svg = d3.select(ref.current);
    svg.selectAll('*').remove();

    const defs = svg.append('defs');
    defs.append('marker')
      .attr('id', 'chev')
      .attr('viewBox', '0 0 10 10')
      .attr('refX', 9).attr('refY', 5)
      .attr('markerWidth', 8).attr('markerHeight', 8)
      .attr('markerUnits', 'userSpaceOnUse')
      .attr('orient', 'auto-start-reverse')
      .append('path')
      .attr('d', 'M1,1 L9,5 L1,9')
      .attr('fill', 'none').attr('stroke', '#666').attr('stroke-width', 1.8);

    svg.append('rect').attr('width', 913).attr('height', 907).attr('fill', '#fff');

    panels.forEach((p, i) => drawPanel(svg, p, i));

    svg.append('g')
      .selectAll('text')
      .data(captions)
      .join('text')
      .attr('x', (d) => d.x).attr('y', (d) => d.y)
      .attr('text-anchor', 'middle').attr('dominant-baseline', 'central')
      .style('font-family', CAPTION_FONT).style('font-size', '24.5px')
      .attr('letter-spacing', 0.6).attr('fill', '#111')
      .text((d) => d.text);
  }, []);

  return (
    <svg
      ref={ref}
      width={913}
      height={907}
      style={{ position: 'absolute', left: 0, top: 0, background: '#fff' }}
    />
  );
}
